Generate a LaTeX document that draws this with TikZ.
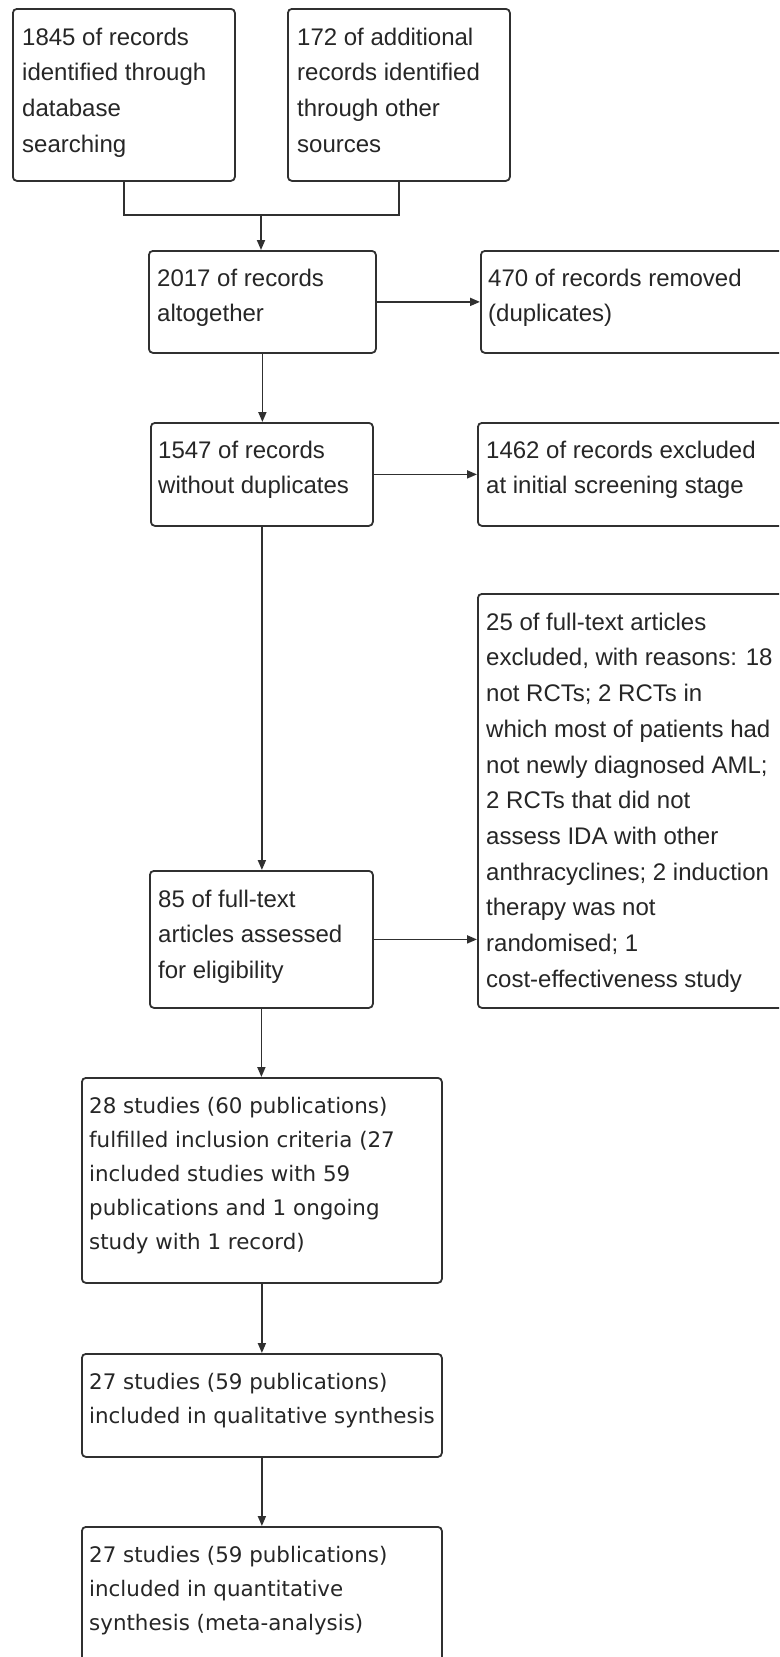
\documentclass[tikz,border=0pt]{standalone}
\usepackage{fontspec}
\setmainfont{Liberation Sans}
\newfontfamily\verd{DejaVu Sans}
\usetikzlibrary{arrows.meta,calc}
\definecolor{linegray}{HTML}{303030}
\definecolor{textgray}{HTML}{262626}
\begin{document}
\begin{tikzpicture}[x=1pt,y=-1pt,
  box/.style={draw=linegray, line width=1.8pt, rounded corners=4pt, inner sep=0pt, anchor=north west},
  txtA/.style={anchor=north west, inner sep=0pt, align=left, text=textgray, font=\fontsize{24}{35.7}\selectfont},
  txtB/.style={anchor=north west, inner sep=0pt, align=left, text=textgray, font=\verd\fontsize{21.4}{34.2}\selectfont},
  conn/.style={draw=linegray, line width=1.8pt},
  arr/.style={conn, -{Triangle[length=10pt,width=8pt]}}]
\useasboundingbox (0,0) rectangle (779,1657);
\fill[white] (0,0) rectangle (779,1657);
\clip (0,0) rectangle (779,1657);

% boxes
\node[box, minimum width=222pt, minimum height=172pt] (b1) at (12,8) {};
\node[box, minimum width=222pt, minimum height=172pt] (b2) at (287,8) {};
\node[box, minimum width=227pt, minimum height=102pt] (b3) at (148,250) {};
\node[box, minimum width=330pt, minimum height=102pt] (b4) at (480,250) {};
\node[box, minimum width=222pt, minimum height=103pt] (b5) at (150,422) {};
\node[box, minimum width=330pt, minimum height=103pt] (b6) at (477,422) {};
\node[box, minimum width=330pt, minimum height=414pt] (b7) at (477,593) {};
\node[box, minimum width=223pt, minimum height=137pt] (b8) at (149,870) {};
\node[box, minimum width=360pt, minimum height=205pt] (b9) at (81,1077) {};
\node[box, minimum width=360pt, minimum height=103pt] (b10) at (81,1353) {};
\node[box, minimum width=360pt, minimum height=200pt] (b11) at (81,1526) {};

% texts
\node[txtA] (t1) at ($(b1.north west)+(10,12)$) {\strut 1845 of records\\identified through\\database\\searching};
\node[txtA] (t2) at ($(b2.north west)+(10,12)$) {\strut 172 of additional\\records identified\\through other\\sources};
\node[txtA] (t3) at ($(b3.north west)+(9,11)$) {\strut 2017 of records\\altogether};
\node[txtA] (t4) at ($(b4.north west)+(8,11)$) {\strut 470 of records removed\\(duplicates)};
\node[txtA] (t5) at ($(b5.north west)+(8,11)$) {\strut 1547 of records\\without duplicates};
\node[txtA] (t6) at ($(b6.north west)+(9,11)$) {\strut 1462 of records excluded\\at initial screening stage};
\node[txtA] (t7) at ($(b7.north west)+(9,12)$) {\strut 25 of full-text articles\\excluded, with reasons: 18\\not RCTs; 2 RCTs in\\which most of patients had\\not newly diagnosed AML;\\2 RCTs that did not\\assess IDA with other\\anthracyclines; 2 induction\\therapy was not\\randomised; 1\\cost-effectiveness study};
\node[txtA] (t8) at ($(b8.north west)+(9,12)$) {\strut 85 of full-text\\articles assessed\\for eligibility};
\node[txtB] (t9) at ($(b9.north west)+(8,12)$) {\strut 28 studies (60 publications)\\fulfilled inclusion criteria (27\\included studies with 59\\publications and 1 ongoing\\study with 1 record)};
\node[txtB] (t10) at ($(b10.north west)+(8,12)$) {\strut 27 studies (59 publications)\\included in qualitative synthesis};
\node[txtB] (t11) at ($(b11.north west)+(8,12)$) {\strut 27 studies (59 publications)\\included in quantitative\\synthesis (meta-analysis)};

% connectors
\coordinate (j) at (261,215);
\draw[conn] (b1.south) |- (j) -| (b2.south);
\draw[arr] (j) -- (j |- b3.north);
\draw[arr] (b3.east) -- (b4.west);
\draw[arr] (b3.south) -- (b3.south |- b5.north);
\draw[arr] (b5.east) -- (b6.west);
\draw[arr] (b5.south) -- (b5.south |- b8.north);
\draw[arr] (b8.east) -- (b8.east -| b7.west);
\draw[arr] (b8.south) -- (b8.south |- b9.north);
\draw[arr] (b9.south) -- (b9.south |- b10.north);
\draw[arr] (b10.south) -- (b10.south |- b11.north);
\end{tikzpicture}
\end{document}
